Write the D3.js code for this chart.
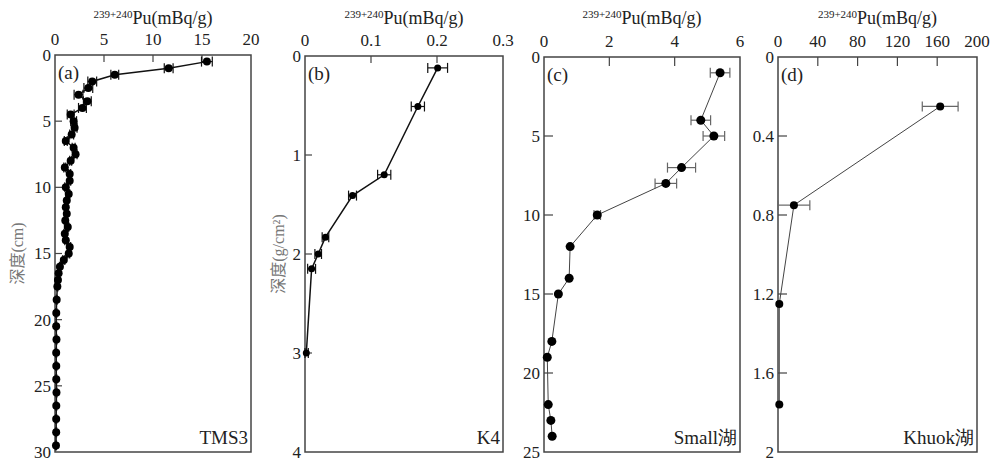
<!DOCTYPE html>
<html>
<head>
<meta charset="utf-8">
<script src="https://cdn.jsdelivr.net/npm/d3@7"></script>
<style>
  body { margin: 0; background: #fff; }
  svg text { font-family: "Liberation Serif", "DejaVu Serif", "Times New Roman", serif; fill: #222; }
</style>
</head>
<body>
<svg id="chart" width="991" height="461" font-family="Liberation Serif, DejaVu Serif, serif"></svg>
<script>
// (a) TMS3 - depth in cm
const tmsDepth = [0.5, 1, 1.5, 2, 2.5, 3, 3.5, 4, 4.5, 5, 5.5, 6, 6.5, 7, 7.5, 8, 8.5, 9, 9.5, 10,
  10.5, 11, 11.5, 12, 12.5, 13, 13.5, 14, 14.5, 15, 15.5, 16, 16.5, 17, 17.5, 18.5, 19.5, 20.5,
  21.5, 22.5, 23.5, 24.5, 25.5, 26.5, 27.5, 28.5, 29.5];
const tmsPu = [15.5, 11.6, 6.1, 3.8, 3.4, 2.4, 3.3, 2.8, 1.6, 1.9, 2.0, 1.7, 1.1, 1.9, 2.1, 1.6, 1.0, 1.5, 1.5, 1.1,
  1.4, 1.2, 1.1, 1.2, 1.05, 1.3, 1.0, 1.1, 1.5, 1.4, 0.9, 0.5, 0.37, 0.3, 0.24, 0.17, 0.13, 0.12,
  0.15, 0.12, 0.13, 0.13, 0.15, 0.13, 0.12, 0.12, 0.1];
const tmsErr = [0.55, 0.45, 0.4, 0.45, 0.45, 0.45, 0.4, 0.4, 0.35, 0.3, 0.25, 0.2, 0.15, 0.15, 0.15, 0.1, 0.1, 0.1, 0.1, 0.1,
  0.1, 0.1, 0.1, 0.1, 0.1, 0.1, 0.1, 0.1, 0.1, 0.1, 0.1, 0.05, 0.05, 0.05, 0.05, 0.05, 0.05, 0.05,
  0.05, 0.05, 0.05, 0.05, 0.05, 0.05, 0.05, 0.05, 0.05];

// (b) K4 - mass depth g/cm2
const k4Depth = [0.12, 0.51, 1.2, 1.41, 1.83, 2.0, 2.15, 3.0];
const k4Pu = [0.201, 0.171, 0.12, 0.072, 0.031, 0.02, 0.01, 0.002];
const k4Err = [0.015, 0.01, 0.01, 0.006, 0.005, 0.005, 0.006, 0.003];

// (c) Small lake - depth cm
const smallDepth = [1, 4, 5, 7, 8, 10, 12, 14, 15, 18, 19, 22, 23, 24];
const smallPu = [5.39, 4.8, 5.2, 4.21, 3.73, 1.63, 0.8, 0.77, 0.44, 0.24, 0.1, 0.13, 0.21, 0.25];
const smallErr = [0.3, 0.3, 0.33, 0.43, 0.33, 0.1, 0, 0, 0, 0, 0, 0, 0, 0];

// (d) Khuok lake - depth
const khuokDepth = [0.25, 0.75, 1.25, 1.76];
const khuokPu = [163, 16, 1.3, 1.3];
const khuokErr = [18, 16, 0, 0];

const xTicksA = [0, 5, 10, 15, 20], yTicksA = [0, 5, 10, 15, 20, 25, 30];
const xTicksB = [0, 0.1, 0.2, 0.3], yTicksB = [0, 1, 2, 3, 4];
const xTicksC = [0, 2, 4, 6], yTicksC = [0, 5, 10, 15, 20, 25];
const xTicksD = [0, 40, 80, 120, 160, 200], yTicksD = [0, 0.4, 0.8, 1.2, 1.6, 2];

const svg = d3.select('#chart');
const SERIF = '"Liberation Serif", "DejaVu Serif", serif';

const panels = [
  { x0: 55, x1: 251, y0: 55, y1: 452, xMax: 20, yMax: 30, xt: xTicksA, yt: yTicksA,
    depth: tmsDepth, pu: tmsPu, err: tmsErr, tag: '(a)', name: 'TMS3', ytitle: '深度(cm)', ytx: 17,
    line: '#111', lw: 1.5, r: 4, ecol: '#111', tick: 7 },
  { x0: 305, x1: 503, y0: 56, y1: 452, xMax: 0.3, yMax: 4, xt: xTicksB, yt: yTicksB,
    depth: k4Depth, pu: k4Pu, err: k4Err, tag: '(b)', name: 'K4', ytitle: '深度(g/cm²)', ytx: 278,
    line: '#111', lw: 1.5, r: 3.5, ecol: '#111', tick: 7 },
  { x0: 544, x1: 740, y0: 57, y1: 452, xMax: 6, yMax: 25, xt: xTicksC, yt: yTicksC,
    depth: smallDepth, pu: smallPu, err: smallErr, tag: '(c)', name: 'Small湖', ytitle: null,
    line: '#444', lw: 1, r: 4.5, ecol: '#666', tick: 9 },
  { x0: 778, x1: 977, y0: 57, y1: 452, xMax: 200, yMax: 2, xt: xTicksD, yt: yTicksD,
    depth: khuokDepth, pu: khuokPu, err: khuokErr, tag: '(d)', name: 'Khuok湖', ytitle: null,
    line: '#444', lw: 1, r: 4, ecol: '#666', tick: 9 }
];

panels.forEach(p => {
  const x = d3.scaleLinear().domain([0, p.xMax]).range([p.x0, p.x1]);
  const y = d3.scaleLinear().domain([0, p.yMax]).range([p.y0, p.y1]);
  const g = svg.append('g').style('font-family', SERIF);

  // top ticks (inward)
  g.selectAll('line.xt')
    .data(p.xt.slice(1, -1))
    .enter()
    .append('line')
    .attr('x1', d => x(d)).attr('x2', d => x(d))
    .attr('y1', p.y0).attr('y2', p.y0 + p.tick)
    .attr('stroke', '#444').attr('stroke-width', 1.2);

  g.selectAll('text.xt')
    .data(p.xt)
    .enter()
    .append('text')
    .attr('x', d => x(d))
    .attr('y', p.y0 - 10)
    .attr('text-anchor', 'middle')
    .attr('font-size', 17)
    .style('font-family', SERIF)
    .text(d => d);

  // left ticks (inward)
  g.selectAll('line.yt')
    .data(p.yt.slice(1, -1))
    .enter()
    .append('line')
    .attr('x1', p.x0).attr('x2', p.x0 + p.tick)
    .attr('y1', d => y(d)).attr('y2', d => y(d))
    .attr('stroke', '#444').attr('stroke-width', 1.2);

  g.selectAll('text.yt')
    .data(p.yt)
    .enter()
    .append('text')
    .attr('x', p.x0 - 4)
    .attr('y', d => y(d))
    .attr('dy', '0.35em')
    .attr('text-anchor', 'end')
    .attr('font-size', 17)
    .style('font-family', SERIF)
    .text(d => d);

  // box
  g.append('rect')
    .attr('x', p.x0).attr('y', p.y0)
    .attr('width', p.x1 - p.x0).attr('height', p.y1 - p.y0)
    .attr('fill', 'none').attr('stroke', '#444').attr('stroke-width', 1.5);

  // axis title
  const t = g.append('text')
    .attr('x', (p.x0 + p.x1) / 2)
    .attr('y', 24)
    .attr('text-anchor', 'middle')
    .attr('font-size', 18)
    .style('font-family', SERIF);
  t.append('tspan').attr('font-size', 11).attr('dy', -6).text('239+240');
  t.append('tspan').attr('dy', 6).text('Pu(mBq/g)');

  if (p.ytitle) {
    g.append('text')
      .attr('transform', `translate(${p.ytx},${(p.y0 + p.y1) / 2}) rotate(-90)`)
      .attr('text-anchor', 'middle')
      .attr('dy', '0.35em')
      .attr('font-size', 16)
      .style('fill', '#777')
      .style('font-family', '"Liberation Serif", "Noto Sans CJK SC", serif')
      .text(p.ytitle);
  }

  const pts = p.depth.map((d, i) => ({ d: d, v: p.pu[i], e: p.err[i] }));

  // error bars
  const eb = pts.filter(d => d.e > 0);
  g.selectAll('line.eb')
    .data(eb)
    .enter()
    .append('line')
    .attr('x1', d => x(Math.max(0, d.v - d.e))).attr('x2', d => x(d.v + d.e))
    .attr('y1', d => y(d.d)).attr('y2', d => y(d.d))
    .attr('stroke', p.ecol).attr('stroke-width', 1.2);
  [-1, 1].forEach(s => {
    g.selectAll('line.cap' + s)
      .data(eb)
      .enter()
      .append('line')
      .attr('x1', d => x(Math.max(0, d.v + s * d.e))).attr('x2', d => x(Math.max(0, d.v + s * d.e)))
      .attr('y1', d => y(d.d) - 5).attr('y2', d => y(d.d) + 5)
      .attr('stroke', p.ecol).attr('stroke-width', 1.2);
  });

  // profile line
  g.append('path')
    .datum(pts)
    .attr('d', d3.line().x(d => x(d.v)).y(d => y(d.d)))
    .attr('fill', 'none')
    .attr('stroke', p.line)
    .attr('stroke-width', p.lw);

  g.selectAll('circle')
    .data(pts)
    .enter()
    .append('circle')
    .attr('cx', d => x(d.v))
    .attr('cy', d => y(d.d))
    .attr('r', p.r)
    .attr('fill', '#000');

  // panel tag and core name
  g.append('text')
    .attr('x', p.x0 + 3).attr('y', p.y0 + 24)
    .attr('font-size', 19)
    .style('font-family', SERIF)
    .text(p.tag);

  g.append('text')
    .attr('x', p.x1 - 3).attr('y', p.y1 - 8)
    .attr('text-anchor', 'end')
    .attr('font-size', 19)
    .style('font-family', SERIF)
    .text(p.name);
});
</script>
</body>
</html>
